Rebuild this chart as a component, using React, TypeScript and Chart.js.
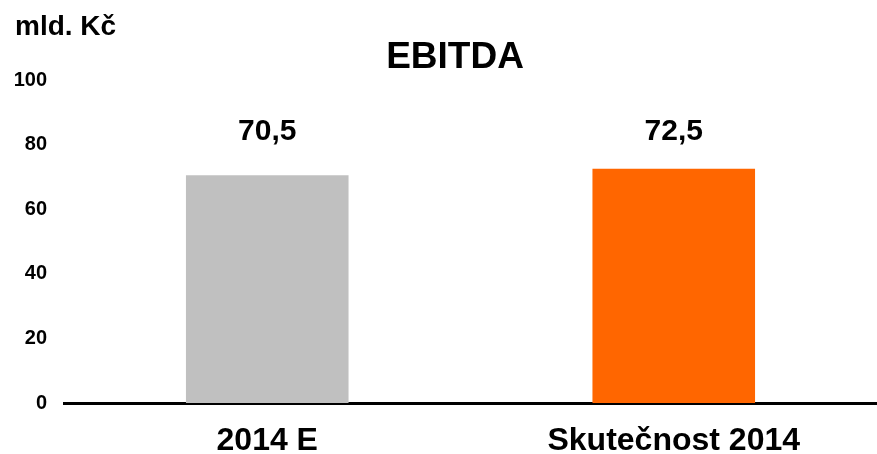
import React, { useEffect, useRef } from "react";
import { Chart, registerables } from "chart.js";

Chart.register(...registerables);

const categories = ["2014 E", "Skutečnost 2014"];
const values = [70.5, 72.5];
const barColors = ["#C0C0C0", "#FF6600"];
const valueLabels = ["70,5", "72,5"];
const yTicks = [0, 20, 40, 60, 80, 100];
const title = "EBITDA";
const unitLabel = "mld. Kč";

const FONT = "'Liberation Sans', Arial, sans-serif";

export default function App() {
  const ref = useRef<HTMLCanvasElement | null>(null);

  useEffect(() => {
    if (!ref.current) return;
    const overlay = {
      id: "overlay",
      afterDatasetsDraw(chart: any) {
        const ctx = chart.ctx;
        ctx.save();
        ctx.fillStyle = "#000";
        ctx.font = `bold 37px ${FONT}`;
        ctx.textAlign = "center";
        ctx.textBaseline = "alphabetic";
        ctx.fillText(title, 455, 68);
        ctx.font = `bold 28px ${FONT}`;
        ctx.textAlign = "left";
        ctx.fillText(unitLabel, 15, 35);
        ctx.font = `bold 30px ${FONT}`;
        ctx.textAlign = "center";
        const meta = chart.getDatasetMeta(0);
        meta.data.forEach((bar: any, i: number) => {
          ctx.fillText(valueLabels[i], bar.x, 140);
        });
        ctx.restore();
      },
    };

    const chart = new Chart(ref.current, {
      type: "bar",
      data: {
        labels: categories,
        datasets: [
          {
            data: values,
            backgroundColor: barColors,
            borderWidth: 0,
            barPercentage: 0.4,
            categoryPercentage: 1,
          },
        ],
      },
      options: {
        animation: false,
        responsive: false,
        maintainAspectRatio: false,
        layout: { padding: { top: 80, right: 0, left: 0, bottom: 0 } },
        plugins: {
          legend: { display: false },
          tooltip: { enabled: false },
          title: { display: false },
        },
        scales: {
          x: {
            grid: { display: false, drawTicks: false },
            border: { display: true, color: "#000", width: 3 },
            ticks: {
              color: "#000",
              font: { family: FONT, size: 32, weight: "bold" },
              padding: 19,
            },
            afterFit: (s: any) => {
              s.height = 51;
            },
          },
          y: {
            min: 0,
            max: 100,
            grid: { display: false, drawTicks: false },
            border: { display: false },
            afterBuildTicks: (s: any) => {
              s.ticks = yTicks.map((v) => ({ value: v }));
            },
            ticks: {
              color: "#000",
              font: { family: FONT, size: 20, weight: "bold" },
              padding: 17,
            },
            afterFit: (s: any) => {
              s.width = 64;
            },
          },
        },
      },
      plugins: [overlay],
    });
    return () => chart.destroy();
  }, []);

  return (
    <div style={{ position: "fixed", left: 0, top: 0, width: 877, height: 454, background: "#fff" }}>
      <canvas ref={ref} width={877} height={454} style={{ width: 877, height: 454, display: "block" }} />
    </div>
  );
}
